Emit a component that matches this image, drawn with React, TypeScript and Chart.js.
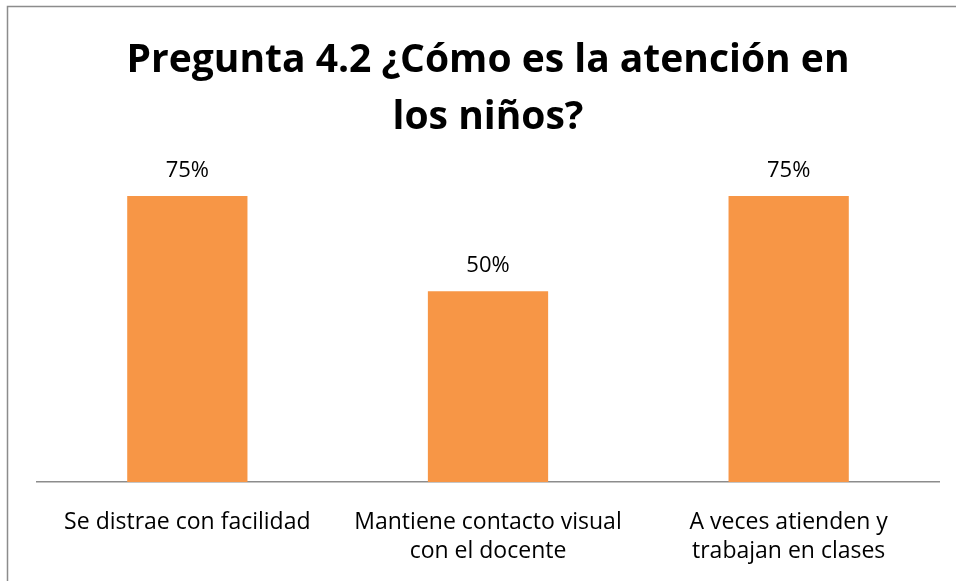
import React, { useEffect, useRef } from "react";
import { Chart, registerables } from "chart.js";

Chart.register(...registerables);

const titleLines = ["Pregunta 4.2 ¿Cómo es la atención en", "los niños?"];
const categories: string[][] = [
  ["Se distrae con facilidad"],
  ["Mantiene contacto visual", "con el docente"],
  ["A veces atienden y", "trabajan en clases"],
];
const values = [0.75, 0.5, 0.75];
const valueLabels = ["75%", "50%", "75%"];

const FONT = "'Open Sans', 'Noto Sans', sans-serif";

const borderPlugin = {
  id: "outerBorder",
  beforeDraw(chart: any) {
    const ctx = chart.ctx;
    ctx.save();
    ctx.fillStyle = "#ffffff";
    ctx.fillRect(0, 0, chart.width, chart.height);
    ctx.strokeStyle = "#8c8c8c";
    ctx.lineWidth = 1.5;
    ctx.beginPath();
    ctx.moveTo(7.5, chart.height + 2);
    ctx.lineTo(7.5, 6.5);
    ctx.lineTo(chart.width + 2, 6.5);
    ctx.stroke();
    ctx.restore();
  },
};

const labelPlugin = {
  id: "valueLabels",
  afterDatasetsDraw(chart: any) {
    const ctx = chart.ctx;
    const meta = chart.getDatasetMeta(0);
    ctx.save();
    ctx.font = `22px ${FONT}`;
    ctx.fillStyle = "#000000";
    ctx.textAlign = "center";
    ctx.textBaseline = "alphabetic";
    meta.data.forEach((el: any, i: number) => {
      ctx.fillText(valueLabels[i], el.x, el.y - 19);
    });
    ctx.restore();
  },
};

export default function App() {
  const ref = useRef<HTMLCanvasElement>(null);
  useEffect(() => {
    document.body.style.margin = "0";
    const chart = new Chart(ref.current!, {
      type: "bar",
      data: {
        labels: categories,
        datasets: [
          {
            data: values,
            backgroundColor: "#f79646",
            barPercentage: 0.4,
            categoryPercentage: 1,
          },
        ],
      },
      options: {
        animation: false,
        responsive: false,
        layout: { padding: { left: 37, right: 17, top: 0, bottom: 0 } },
        plugins: {
          legend: { display: false },
          tooltip: { enabled: false },
          title: {
            display: true,
            text: titleLines,
            color: "#000000",
            font: { family: FONT, size: 39, weight: "bold", lineHeight: 1.46 },
            padding: { top: 32, bottom: 31 },
          },
        },
        scales: {
          x: {
            grid: { display: false },
            border: { display: true, color: "#8c8c8c", width: 1.5 },
            afterFit: (scale: any) => {
              scale.height = 99;
            },
            ticks: {
              color: "#000000",
              font: { family: FONT, size: 23, lineHeight: 1.26 },
              maxRotation: 0,
              autoSkip: false,
              padding: 18,
            },
          },
          y: {
            display: false,
            min: 0,
            max: 0.8,
          },
        },
      },
      plugins: [borderPlugin, labelPlugin],
    });
    return () => chart.destroy();
  }, []);
  return <canvas ref={ref} width={956} height={581} style={{ display: "block" }} />;
}
